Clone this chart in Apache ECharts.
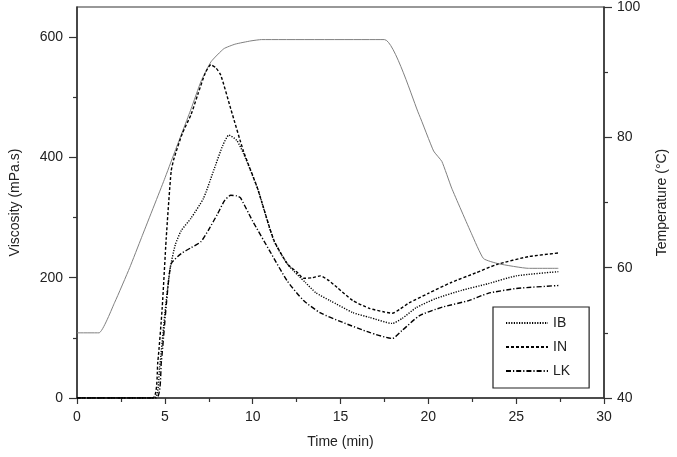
<!DOCTYPE html>
<html>
<head>
<meta charset="utf-8">
<script src="https://cdn.jsdelivr.net/npm/echarts@6/dist/echarts.min.js"></script>
<style>
html,body{margin:0;padding:0;background:#fff;}
#chart{width:677px;height:457px;}
</style>
</head>
<body>
<div id="chart"></div>
<script>
// ---- Data ----
const ibTime = [0, 4.4, 4.7, 5.0, 5.3, 5.6, 5.93, 6.49, 7.2, 7.8, 8.3, 8.65, 9.1, 9.5, 10.27, 11.2, 12.0, 13.0, 13.6, 14.4, 15.7, 16.65, 17.95, 18.5, 19.3, 20.4, 21.9, 23.4, 25.0, 27.4];
const ibVisc = [0, 0, 50, 140, 215, 255, 278, 299, 332, 380, 420, 437, 428, 405, 349, 262, 222, 192, 175, 162, 142, 134, 124, 132, 150, 165, 179, 190, 203, 210];

const inTime = [0, 4.3, 4.6, 4.85, 5.08, 5.36, 5.53, 6.0, 6.49, 6.88, 7.3, 7.62, 7.9, 8.18, 8.75, 9.48, 10.27, 11.2, 12.0, 12.5, 12.9, 13.4, 13.85, 14.3, 14.8, 15.7, 16.65, 17.5, 17.95, 18.4, 18.9, 20.0, 21.3, 22.7, 23.9, 25.7, 27.4];
const inVisc = [0, 0, 60, 150, 266, 377, 399, 440, 471, 505, 540, 554, 549, 537, 481, 410, 349, 263, 222, 210, 199, 200, 203, 196, 184, 162, 149, 143, 141, 148, 158, 174, 192, 208, 222, 235, 241];

const lkTime = [0, 4.5, 4.8, 5.1, 5.36, 5.93, 6.5, 7.06, 7.5, 8.0, 8.4, 8.75, 9.1, 9.3, 10.0, 11.0, 11.96, 12.9, 13.83, 15.1, 16.65, 17.95, 18.5, 19.5, 20.8, 22.3, 23.4, 25.0, 27.4];
const lkVisc = [0, 0, 60, 160, 223, 240, 250, 260, 280, 306, 328, 337, 336, 333, 294, 243, 195, 162, 142, 126, 109, 99, 112, 137, 151, 162, 174, 182, 187];

const tempTime = [0, 1.25, 2.15, 3.0, 3.67, 4.97, 5.54, 6.5, 7.06, 7.63, 8.36, 9.0, 9.9, 10.5, 17.5, 19.47, 20.3, 20.77, 21.33, 22.46, 23.14, 24.0, 25.7, 27.4];
const tempVal  = [50, 50, 54.7, 60, 64.6, 73.5, 77.6, 84.4, 88.6, 91.6, 93.6, 94.3, 94.8, 95, 95, 83.5, 77.9, 76.3, 72.2, 65.2, 61.4, 60.6, 59.9, 59.9];

const seriesNames = ['IB', 'IN', 'LK'];
const viscTicks = [0, 200, 400, 600];
const viscMinorTicks = [100, 300, 500];

const zip = (a, b) => a.map((v, i) => [v, b[i]]);

const axisColor = '#333';
const textColor = '#222';
const font = 'Liberation Sans, Arial, sans-serif';

const chart = echarts.init(document.getElementById('chart'), null, {renderer: 'canvas'});

const lineSeries = (name, data, dash) => ({
  name, type: 'line', data, xAxisIndex: 0, yAxisIndex: 0,
  showSymbol: false, symbol: 'none', smooth: 0.2,
  lineStyle: {color: '#000', width: 1.4, type: dash},
  itemStyle: {color: '#000'},
  z: 3
});

chart.setOption({
  animation: false,
  backgroundColor: '#fff',
  textStyle: {fontFamily: font},
  grid: {left: 75, right: 70, top: 5, bottom: 59, show: true, borderColor: axisColor, borderWidth: 1.2},
  legend: {
    data: seriesNames,
    orient: 'vertical',
    left: 493, top: 307,
    itemWidth: 42, itemHeight: 14, itemGap: 10,
    padding: [9, 19, 10, 12],
    borderColor: '#222', borderWidth: 1.2,
    backgroundColor: '#fff',
    itemStyle: {opacity: 0},
    textStyle: {fontSize: 14, color: textColor, fontFamily: font}
  },
  xAxis: [{
    type: 'value', min: 0, max: 30, interval: 5,
    name: 'Time (min)', nameLocation: 'middle', nameGap: 37,
    nameTextStyle: {fontSize: 14, color: textColor},
    axisLine: {show: true, lineStyle: {color: axisColor, width: 1.5}},
    axisTick: {show: true, length: 6, lineStyle: {color: axisColor, width: 1.2}},
    minorTick: {show: true, splitNumber: 2, length: 4, lineStyle: {color: axisColor, width: 1.2}},
    axisLabel: {fontSize: 14, color: textColor, margin: 12},
    splitLine: {show: false}, minorSplitLine: {show: false}
  }],
  yAxis: [{
    type: 'value', position: 'left', min: 0, max: 650,
    name: 'Viscosity (mPa.s)', nameLocation: 'middle', nameGap: 55,
    nameTextStyle: {fontSize: 14, color: textColor},
    axisLine: {show: true, lineStyle: {color: axisColor, width: 1.5}},
    axisTick: {show: true, length: 8, lineStyle: {color: axisColor, width: 1.2}, customValues: viscTicks},
    axisLabel: {fontSize: 14, color: textColor, margin: 14, customValues: viscTicks},
    splitLine: {show: false}
  }, {
    type: 'value', position: 'right', min: 40, max: 100, interval: 20,
    name: 'Temperature (°C)', nameLocation: 'middle', nameGap: 51,
    nameTextStyle: {fontSize: 14, color: textColor},
    axisLine: {show: true, lineStyle: {color: axisColor, width: 1.5}},
    axisTick: {show: true, length: 8, lineStyle: {color: axisColor, width: 1.2}},
    minorTick: {show: true, splitNumber: 2, length: 4, lineStyle: {color: axisColor, width: 1.2}},
    axisLabel: {fontSize: 14, color: textColor, margin: 13},
    splitLine: {show: false}, minorSplitLine: {show: false}
  }, {
    type: 'value', position: 'left', min: 0, max: 650,
    axisLine: {show: false},
    axisTick: {show: true, length: 4, lineStyle: {color: axisColor, width: 1.2}, customValues: viscMinorTicks},
    axisLabel: {show: false},
    splitLine: {show: false}
  }],
  series: [
    lineSeries('IB', zip(ibTime, ibVisc), [1.2, 1.4]),
    lineSeries('IN', zip(inTime, inVisc), [3, 2]),
    lineSeries('LK', zip(lkTime, lkVisc), [5, 2, 1.2, 2]),
    {
      name: 'Temperature', type: 'line', data: zip(tempTime, tempVal),
      xAxisIndex: 0, yAxisIndex: 1, showSymbol: false, symbol: 'none', smooth: 0.15,
      lineStyle: {color: '#808080', width: 1}, z: 2
    }
  ]
});
</script>
</body>
</html>
